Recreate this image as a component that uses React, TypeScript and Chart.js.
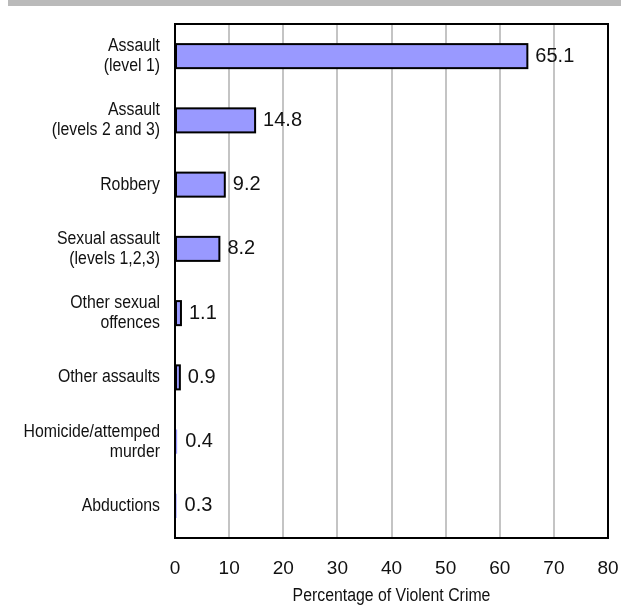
import React, { useEffect, useRef } from "react";
import { Chart, registerables } from "chart.js";

Chart.register(...registerables);

const categories: string[][] = [
  ["Assault", "(level 1)"],
  ["Assault", "(levels 2 and 3)"],
  ["Robbery"],
  ["Sexual assault", "(levels 1,2,3)"],
  ["Other sexual", "offences"],
  ["Other assaults"],
  ["Homicide/attemped", "murder"],
  ["Abductions"],
];
const shares: number[] = [65.1, 14.8, 9.2, 8.2, 1.1, 0.9, 0.4, 0.3];
const xTicks: number[] = [0, 10, 20, 30, 40, 50, 60, 70, 80];
const axisTitle = "Percentage of Violent Crime";

const SANS = '"Liberation Sans", Arial, sans-serif';
// No narrow face is available, so condensed text is drawn squeezed horizontally
const NARROW_FONT = `18px ${SANS}`;
const NARROW_SCALE = 0.88;
const LABEL_LINE = 20;

function narrowText(ctx: CanvasRenderingContext2D, text: string, x: number, y: number, align: CanvasTextAlign) {
  ctx.save();
  ctx.translate(x, y);
  ctx.scale(NARROW_SCALE, 1);
  ctx.font = NARROW_FONT;
  ctx.textAlign = align;
  ctx.textBaseline = "middle";
  ctx.fillText(text, 0, 0);
  ctx.restore();
}

// Gray strip across the top of the figure
const topBand = {
  id: "topBand",
  beforeDraw(chart: Chart) {
    const { ctx, width } = chart;
    ctx.save();
    ctx.fillStyle = "#bababa";
    ctx.fillRect(8, 0, width - 8, 6);
    ctx.restore();
  },
};

// Category labels, axis title, bar outlines, plot frame and value labels
const decorations = {
  id: "decorations",
  afterDatasetsDraw(chart: Chart) {
    const { ctx, chartArea } = chart;
    const yScale: any = chart.scales.y;
    const xScale: any = chart.scales.x;
    ctx.save();
    ctx.fillStyle = "#111";

    categories.forEach((lines, i) => {
      const cy = yScale.getPixelForValue(i);
      const start = cy - ((lines.length - 1) * LABEL_LINE) / 2;
      lines.forEach((line, j) => {
        narrowText(ctx, line, chartArea.left - 15, start + j * LABEL_LINE, "right");
      });
    });

    narrowText(ctx, axisTitle, (xScale.left + xScale.right) / 2, 596, "center");

    const meta = chart.getDatasetMeta(0);
    ctx.strokeStyle = "#000";
    ctx.lineWidth = 2;
    meta.data.forEach((el: any) => {
      const w = el.x - el.base;
      if (w < 3) return;
      ctx.strokeRect(el.base, el.y - el.height / 2, w, el.height);
    });

    ctx.strokeRect(
      chartArea.left,
      chartArea.top,
      chartArea.right - chartArea.left,
      chartArea.bottom - chartArea.top
    );

    ctx.fillStyle = "#111";
    ctx.font = `20px ${SANS}`;
    ctx.textAlign = "left";
    ctx.textBaseline = "middle";
    meta.data.forEach((el: any, i: number) => {
      ctx.fillText(shares[i].toFixed(1), el.x + 8, el.y);
    });
    ctx.restore();
  },
};

export default function App() {
  const ref = useRef<HTMLCanvasElement | null>(null);

  useEffect(() => {
    if (!ref.current) return;
    const chart = new Chart(ref.current, {
      type: "bar",
      data: {
        labels: categories.map((l) => l.join(" ")),
        datasets: [
          {
            data: shares,
            backgroundColor: "#9999ff",
            borderWidth: 0,
            categoryPercentage: 1,
            barPercentage: 0.374,
          },
        ],
      },
      options: {
        indexAxis: "y",
        animation: false,
        responsive: false,
        devicePixelRatio: 1,
        layout: { padding: { top: 24, right: 13, left: 0, bottom: 0 } },
        plugins: {
          legend: { display: false },
          tooltip: { enabled: false },
        },
        scales: {
          x: {
            type: "linear",
            min: xTicks[0],
            max: xTicks[xTicks.length - 1],
            afterBuildTicks(scale: any) {
              scale.ticks = xTicks.map((v) => ({ value: v }));
            },
            afterFit(scale: any) {
              scale.height = 67;
              scale.paddingLeft = 0;
              scale.paddingRight = 0;
            },
            grid: {
              color: "#c4c4c4",
              lineWidth: 2,
              drawTicks: false,
            },
            border: { display: true, color: "#000", width: 2 },
            ticks: {
              padding: 19,
              color: "#111",
              font: { family: SANS, size: 19 },
              maxRotation: 0,
            },
          },
          y: {
            type: "category",
            afterFit(scale: any) {
              scale.width = 175;
            },
            grid: { display: false, drawTicks: false },
            border: { display: true, color: "#000", width: 2 },
            ticks: { display: false },
          },
        },
      },
      plugins: [topBand, decorations],
    });
    return () => chart.destroy();
  }, []);

  return (
    <div style={{ position: "absolute", left: 0, top: 0, width: 621, height: 605, background: "#fff" }}>
      <canvas ref={ref} width={621} height={605} style={{ display: "block" }} />
    </div>
  );
}
